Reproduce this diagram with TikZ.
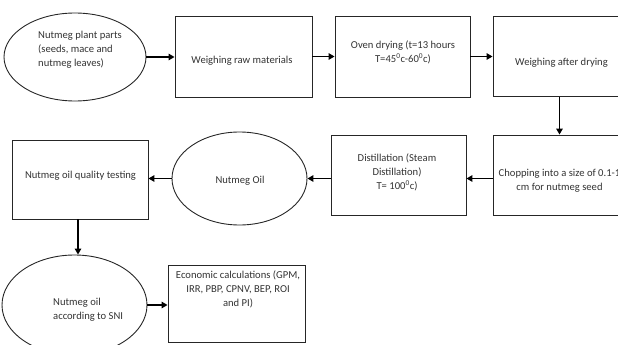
\documentclass[tikz,border=0pt]{standalone}
\usepackage{fontspec}
\setmainfont{Carlito}
\usetikzlibrary{arrows.meta,shapes.geometric}
\begin{document}
\begin{tikzpicture}[x=1pt,y=-1pt,
  shp/.style={draw=black!85, line width=0.9pt, inner sep=0pt},
  txt/.style={font=\fontsize{10.6pt}{14pt}\selectfont, text=black!80, inner sep=0pt, align=center},
  arr/.style={draw=black, line width=1.8pt, -{Triangle[length=6pt,width=6.5pt]}}]
\useasboundingbox (0,0) rectangle (618,345);
\clip (0,0) rectangle (618,345);
% shapes
\node[shp, ellipse, minimum width=142pt, minimum height=88pt] (e1) at (75,57) {};
\node[shp, rectangle, minimum width=137pt, minimum height=81pt] (b1) at (243.5,56.5) {};
\node[shp, rectangle, minimum width=135pt, minimum height=81pt] (b2) at (402.5,56.5) {};
\node[shp, rectangle, minimum width=133pt, minimum height=80pt] (b3) at (559.5,56.5) {};
\node[shp, rectangle, minimum width=133pt, minimum height=80pt] (b4) at (559.5,175) {};
\node[shp, rectangle, minimum width=135pt, minimum height=80pt] (b5) at (398.5,175) {};
\node[shp, ellipse, minimum width=135pt, minimum height=93pt] (oil) at (239.5,178.5) {};
\node[shp, rectangle, minimum width=136pt, minimum height=79pt] (q) at (80,179.5) {};
\node[shp, ellipse, minimum width=145pt, minimum height=100pt] (e3) at (74.5,305) {};
\node[shp, rectangle, minimum width=137pt, minimum height=77pt] (ec) at (236.5,303.5) {};
% texts
\node[txt, align=left, anchor=west] (t1) at (38,50) {Nutmeg plant parts\\(seeds, mace and\\nutmeg leaves)};
\node[txt] (t2) at (242,61) {Weighing raw materials};
\node[txt] (t3) at (403,52.5) {Oven drying (t=13 hours\\T=45\textsuperscript{0}c-60\textsuperscript{0}c)};
\node[txt] (t4) at (561.5,63) {Weighing after drying};
\node[txt] (t5) at (559.5,180.5) {Chopping into a size of 0.1-1\\cm for nutmeg seed};
\node[txt] (t6) at (397,172) {Distillation (Steam\\Distillation)\\T= 100\textsuperscript{0}c)};
\node[txt] (t7) at (240,181) {Nutmeg Oil};
\node[txt] (t8) at (80.5,176) {Nutmeg oil quality testing};
\node[txt, align=left, anchor=west] (t9) at (53,309.5) {Nutmeg oil\\according to SNI};
\node[txt] (t10) at (238,289) {Economic calculations (GPM,\\IRR, PBP, CPNV, BEP, ROI\\and PI)};
% connectors
\draw[arr] (e1.east) -- (b1.west |- e1.east);
\draw[arr] (b1.east) -- (b2.west);
\draw[arr] (b2.east) -- (b3.west);
\draw[arr] (b3.south) -- (b4.north);
\draw[arr] (b4.west |- oil.east) -- (b5.east |- oil.east);
\draw[arr] (b5.west |- oil.east) -- (oil.east);
\draw[arr] (oil.west) -- (q.east |- oil.west);
\draw[arr] ([xshift=-2pt]q.south) -- ([xshift=-2pt]q.south |- e3.north);
\draw[arr] (e3.east) -- (ec.west |- e3.east);
\end{tikzpicture}
\end{document}
